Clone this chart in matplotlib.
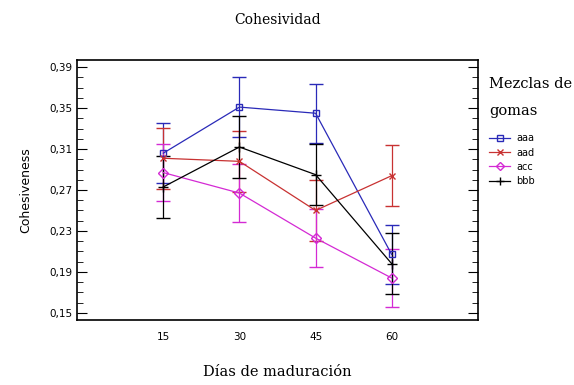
import matplotlib.pyplot as plt
from matplotlib.lines import Line2D
from matplotlib.ticker import MultipleLocator, FixedLocator

dias = [15, 30, 45, 60]

aaa = [0.306, 0.351, 0.345, 0.207]
aad = [0.301, 0.298, 0.250, 0.284]
acc = [0.287, 0.267, 0.223, 0.184]
bbb = [0.273, 0.312, 0.285, 0.198]

# LSD half-widths
err_aaa = 0.029
err_aad = 0.030
err_acc = 0.028
err_bbb = 0.030

fig = plt.figure(figsize=(5.74, 3.85), dpi=100)
ax = fig.add_axes([77/574, 65/385, 401/574, 260/385])

series = [
    ("aaa", aaa, err_aaa, "#2a2ab8", "s", 5),
    ("aad", aad, err_aad, "#c83232", "x", 5),
    ("acc", acc, err_acc, "#d42ad4", "D", 5),
    ("bbb", bbb, err_bbb, "black", "+", 7),
]
handles = []
for name, vals, err, col, mk, ms in series:
    ax.errorbar(dias, vals, yerr=err, color=col, marker=mk, mfc="none",
                ms=ms, lw=0.9, capsize=5, elinewidth=0.9)
    handles.append(Line2D([], [], color=col, marker=mk, mfc="none",
                          ms=ms - 1, lw=0.9, label=name))

ax.set_xlim(-2, 77)
ax.set_ylim(0.143, 0.397)
ax.xaxis.set_major_locator(FixedLocator(dias))
ax.yaxis.set_major_locator(FixedLocator([0.15, 0.19, 0.23, 0.27, 0.31, 0.35, 0.39]))
ax.yaxis.set_minor_locator(MultipleLocator(0.01))
ax.set_yticklabels(["0,15", "0,19", "0,23", "0,27", "0,31", "0,35", "0,39"])
ax.tick_params(axis="x", length=0, labelsize=7.5, pad=9)
ax.tick_params(axis="y", which="both", direction="in", right=True, labelsize=7.5)
ax.tick_params(axis="y", which="major", length=7)
ax.tick_params(axis="y", which="minor", length=4)
for s in ax.spines.values():
    s.set_linewidth(1.2)

ax.set_ylabel("Cohesiveness", fontsize=9, labelpad=12)
ax.set_xlabel("Días de maduración", family="DejaVu Serif", fontsize=10.5, labelpad=16)
ax.set_title("Cohesividad", family="DejaVu Serif", fontsize=10, pad=26)

leg = ax.legend(handles=handles, loc="upper left", bbox_to_anchor=(1.01, 0.96),
                frameon=False, title="Mezclas de\ngomas", fontsize=7,
                handlelength=2.2, labelspacing=0.45, borderaxespad=0.3,
                handletextpad=0.6)
leg.get_title().set_family("DejaVu Serif")
leg.get_title().set_fontsize(10.5)
leg.get_title().set_linespacing(2.15)
leg._legend_box.align = "left"
leg._legend_box.sep = 11

plt.savefig("out.png", dpi=100)
